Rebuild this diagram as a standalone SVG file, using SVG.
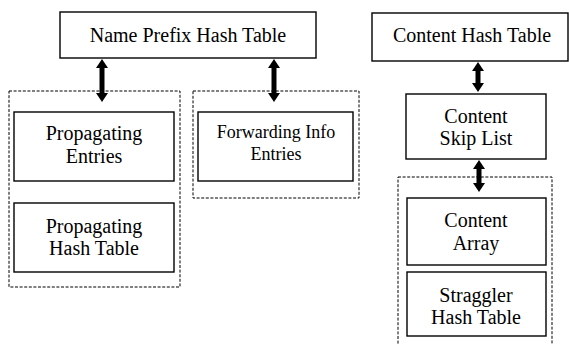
<svg xmlns="http://www.w3.org/2000/svg" width="569" height="345" viewBox="0 0 569 345">
<style>
.box{fill:#fff;stroke:#000;stroke-width:1.4}
.grp{fill:none;stroke:#000;stroke-width:1;stroke-dasharray:3 1.6}
text{font-family:"Liberation Serif","DejaVu Serif","Times New Roman",serif;font-size:20px;fill:#000;text-anchor:middle}
.sm{font-size:18px}
.arr{stroke:#000;stroke-width:5;marker-start:url(#ah);marker-end:url(#ah)}
</style>
<defs>
<marker id="ah" viewBox="0 0 9 12" markerWidth="9" markerHeight="12" refX="3" refY="6" orient="auto-start-reverse" markerUnits="userSpaceOnUse">
<path d="M0,0 L9,6 L0,12 z" fill="#000"/>
</marker>
</defs>
<rect width="569" height="345" fill="#fff"/>
<g id="group-propagating"><rect class="grp" x="9" y="91" width="171" height="196"/></g>
<g id="group-forwarding"><rect class="grp" x="193" y="91" width="166" height="107"/></g>
<g id="group-content"><rect class="grp" x="398" y="177" width="154" height="180"/></g>
<g id="name-prefix-hash-table">
<rect class="box" x="60" y="12" width="256" height="46"/>
<text x="188" y="42">Name Prefix Hash Table</text>
</g>
<g id="propagating-entries">
<rect class="box" x="14" y="112" width="160" height="69"/>
<text x="94" y="140">Propagating</text>
<text x="94" y="163">Entries</text>
</g>
<g id="propagating-hash-table">
<rect class="box" x="14" y="203" width="160" height="69"/>
<text x="94" y="233">Propagating</text>
<text x="94" y="255">Hash Table</text>
</g>
<g id="forwarding-info-entries">
<rect class="box" x="198" y="112" width="155" height="69"/>
<text class="sm" x="276" y="138">Forwarding Info</text>
<text class="sm" x="276" y="160">Entries</text>
</g>
<g id="content-hash-table">
<rect class="box" x="372" y="13" width="196" height="48"/>
<text x="472" y="42">Content Hash Table</text>
</g>
<g id="content-skip-list">
<rect class="box" x="406" y="94" width="140" height="65"/>
<text x="476" y="123">Content</text>
<text x="476" y="145">Skip List</text>
</g>
<g id="content-array">
<rect class="box" x="407" y="198" width="139" height="67"/>
<text x="476" y="227">Content</text>
<text x="476" y="250">Array</text>
</g>
<g id="straggler-hash-table">
<rect class="box" x="407" y="272" width="139" height="64"/>
<text x="476" y="302">Straggler</text>
<text x="476" y="324">Hash Table</text>
</g>
<g id="connectors">
<line class="arr" x1="102" y1="65" x2="102" y2="96"/>
<line class="arr" x1="274" y1="65" x2="274" y2="96"/>
<line class="arr" x1="478" y1="68" x2="478" y2="86"/>
<line class="arr" x1="479" y1="166" x2="479" y2="186"/>
</g>
</svg>
